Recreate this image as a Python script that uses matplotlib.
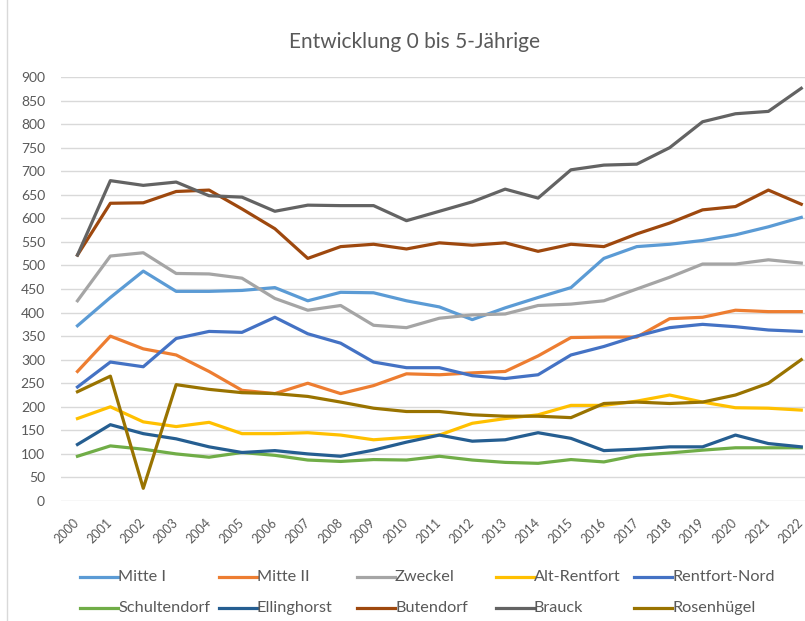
import numpy as np
from matplotlib import pyplot as plt

plt.rcParams['font.family'] = ['Lato', 'DejaVu Sans']

years = [str(y) for y in range(2000, 2023)]

mitte_1 = [372, 432, 488, 445, 445, 447, 453, 425, 443, 442, 425, 412, 385, 410, 432, 453, 515, 540, 545, 553, 565, 582, 602]
mitte_2 = [275, 350, 323, 310, 275, 235, 228, 250, 228, 245, 270, 268, 272, 275, 308, 347, 348, 348, 387, 390, 405, 402, 402]
zweckel = [425, 520, 527, 483, 482, 473, 430, 405, 415, 373, 368, 388, 395, 397, 415, 418, 425, 450, 475, 503, 503, 512, 505]
alt_rentfort = [175, 200, 168, 158, 167, 143, 143, 145, 140, 130, 135, 140, 165, 175, 183, 203, 203, 212, 225, 210, 198, 197, 193]
rentfort_nord = [242, 295, 285, 345, 360, 358, 390, 355, 335, 295, 283, 283, 266, 260, 268, 310, 328, 350, 368, 375, 370, 363, 360]
schultendorf = [95, 117, 110, 100, 93, 103, 97, 87, 84, 88, 87, 95, 87, 82, 80, 88, 83, 97, 102, 108, 113, 113, 113]
ellinghorst = [120, 162, 143, 132, 115, 103, 107, 100, 95, 108, 125, 140, 127, 130, 145, 133, 107, 110, 115, 115, 140, 122, 115]
butendorf = [522, 632, 633, 657, 660, 620, 578, 515, 540, 545, 535, 548, 543, 548, 530, 545, 540, 567, 590, 618, 625, 660, 630]
brauck = [522, 680, 670, 677, 648, 645, 615, 628, 627, 627, 595, 615, 635, 662, 643, 703, 713, 715, 750, 805, 822, 827, 876]
rosenhuegel = [232, 265, 27, 247, 237, 230, 228, 222, 210, 197, 190, 190, 183, 180, 180, 177, 207, 210, 207, 210, 225, 250, 300]

names = ['Mitte I', 'Mitte II', 'Zweckel', 'Alt-Rentfort', 'Rentfort-Nord',
         'Schultendorf', 'Ellinghorst', 'Butendorf', 'Brauck', 'Rosenhügel']
series = [mitte_1, mitte_2, zweckel, alt_rentfort, rentfort_nord,
          schultendorf, ellinghorst, butendorf, brauck, rosenhuegel]
colors = ['#5B9BD5', '#ED7D31', '#A5A5A5', '#FFC000', '#4472C4',
          '#70AD47', '#255E91', '#9E480E', '#636363', '#997300']

W, H = 805, 621
fig = plt.figure(figsize=(W / 100, H / 100), dpi=100)
ax = fig.add_axes([0.0758, 0.1932, 0.94, 0.6828])

x = np.arange(len(years))
for name, vals, col in zip(names, series, colors):
    ax.plot(x, vals, color=col, lw=2.3, label=name, solid_joinstyle='round')

ax.set_xlim(-0.5, len(years) - 0.5)
ax.set_ylim(0, 900)
ax.set_yticks(range(0, 901, 50))
ax.set_xticks(x)
ax.set_xticklabels(years, rotation=45, ha='right', va='center',
                   rotation_mode='anchor', fontsize=9)
ax.grid(axis='y', color='#D9D9D9', lw=1)
ax.set_axisbelow(True)
for s in ax.spines.values():
    s.set_visible(False)
ax.tick_params(axis='both', length=0, colors='#595959')
ax.tick_params(axis='y', pad=11.5, labelsize=10)
ax.tick_params(axis='x', pad=14)

fig.text(0.515, 0.932, 'Entwicklung 0 bis 5-Jährige', ha='center', va='center',
         fontsize=15, color='#595959')

# Excel-style legend: equal column widths, two rows
renderer = fig.canvas.get_renderer()
probe = fig.text(0, 0, 'Schultendorf', fontsize=10)
leg_fs = 10 * 92 / probe.get_window_extent(renderer).width
probe.remove()

col_w, row_h, line_len = 138.5, 31, 38
for i, (name, col) in enumerate(zip(names, colors)):
    r, c = divmod(i, 5)
    x0 = 80 + c * col_w
    y0 = 577 + r * row_h
    fig.add_artist(plt.Line2D([x0 / W, (x0 + line_len) / W], [1 - y0 / H] * 2,
                              color=col, lw=2.3))
    fig.text((x0 + line_len) / W, 1 - y0 / H, name, ha='left', va='center',
             fontsize=leg_fs, color='#595959')

# thin frame line on the left like the cropped chart border
fig.add_artist(plt.Line2D([0.009, 0.009], [0, 1], color='#D9D9D9', lw=1))

plt.savefig('out.png', dpi=100)
